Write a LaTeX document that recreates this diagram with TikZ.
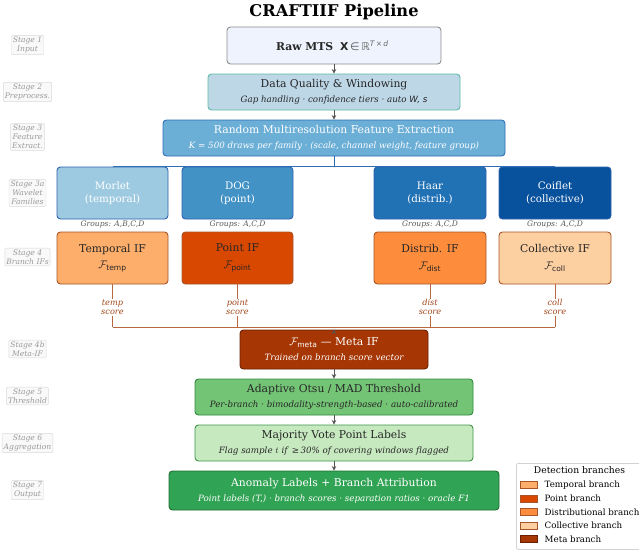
\documentclass[tikz,border=0pt]{standalone}
\usepackage{amsmath}
\usepackage{fontspec}
\setmainfont{DejaVu Serif}
\setsansfont{DejaVu Sans}
\usepackage{xcolor}
\usepackage{tikz}
\usetikzlibrary{positioning, arrows.meta}

\definecolor{rawfill}{HTML}{EEF3FD}
\definecolor{rawdraw}{HTML}{8C8C8C}
\definecolor{dqfill}{HTML}{BDD7E7}
\definecolor{dqdraw}{HTML}{5DB9A6}
\definecolor{rmfefill}{HTML}{6BAED6}
\definecolor{rmfedraw}{HTML}{2F6DB5}
\definecolor{morletfill}{HTML}{9ECAE1}
\definecolor{dogfill}{HTML}{4292C6}
\definecolor{haarfill}{HTML}{2171B5}
\definecolor{coiffill}{HTML}{08519C}
\definecolor{wavedraw}{HTML}{2C62B0}
\definecolor{tempfill}{HTML}{FDAE6B}
\definecolor{pointfill}{HTML}{D94801}
\definecolor{distfill}{HTML}{FD8D3C}
\definecolor{collfill}{HTML}{FDD0A2}
\definecolor{branchdraw}{HTML}{A65628}
\definecolor{metafill}{HTML}{A63603}
\definecolor{metadraw}{HTML}{6B1F02}
\definecolor{otsufill}{HTML}{74C476}
\definecolor{otsudraw}{HTML}{2E8B3E}
\definecolor{votefill}{HTML}{C7E9C0}
\definecolor{votedraw}{HTML}{3B9446}
\definecolor{outfill}{HTML}{31A354}
\definecolor{outdraw}{HTML}{1F6E33}
\definecolor{arrowgray}{HTML}{555555}
\definecolor{wirebrown}{HTML}{B8683F}
\definecolor{scoretext}{HTML}{A0461A}

\newcommand{\boxtitle}[1]{{\fontsize{10.8}{12.5}\selectfont #1}}
\newcommand{\boxsub}[1]{{\fontsize{8.7}{10}\selectfont\itshape #1}}

\begin{document}
\begin{tikzpicture}[
  x=1pt, y=-1pt,
  stagebox/.style={draw=gray!30, fill=gray!5, rounded corners=1pt, inner sep=1.5pt, align=center, text=gray!80, font=\fontsize{7.6}{9}\selectfont\itshape},
  flowbox/.style={draw, rounded corners=3.5pt, line width=0.9pt, align=center, text=black!85, inner sep=2pt},
  wavebox/.style={flowbox, draw=wavedraw, minimum width=111pt, minimum height=52pt, text=white, font=\fontsize{10.3}{13}\selectfont},
  branchbox/.style={flowbox, draw=branchdraw, minimum width=111pt, minimum height=52pt, font=\fontsize{10.8}{12.5}\selectfont},
  grouplabel/.style={font=\fontsize{7.6}{9}\selectfont\itshape, text=black!65, inner sep=1pt},
  scorelabel/.style={font=\fontsize{8.2}{9.4}\selectfont\itshape, text=scoretext, align=center, inner sep=1pt},
  flowarrow/.style={-{Stealth[length=4.5pt, width=4.5pt]}, draw=arrowgray, line width=1pt},
  treewire/.style={draw=rmfedraw, line width=1pt},
  scorewire/.style={draw=wirebrown, line width=1pt},
  swatch/.style={draw=branchdraw, line width=0.8pt, minimum width=17pt, minimum height=7pt, inner sep=0pt},
]
\useasboundingbox (0,0) rectangle (639,551);

% Title
\node[font=\fontsize{16.2}{18}\selectfont\bfseries] (title) at (334,12) {CRAFTIIF Pipeline};

% Stage labels
\node[stagebox] (s1) at (27.5,45) {Stage 1\\Input};
\node[stagebox] (s2) at (27.5,92) {Stage 2\\Preprocess.};
\node[stagebox] (s3) at (27.5,137) {Stage 3\\Feature\\Extract.};
\node[stagebox] (s3a) at (27.5,193) {Stage 3a\\Wavelet\\Families};
\node[stagebox] (s4) at (27.5,257) {Stage 4\\Branch IFs};
\node[stagebox] (s4b) at (27.5,349) {Stage 4b\\Meta-IF};
\node[stagebox] (s5) at (27.5,396) {Stage 5\\Threshold};
\node[stagebox] (s6) at (27.5,443) {Stage 6\\Aggregation};
\node[stagebox] (s7) at (27.5,490) {Stage 7\\Output};

% Input and preprocessing
\node[flowbox, draw=rawdraw, fill=rawfill, minimum width=214pt, minimum height=37pt] (raw) at (334,45.5) {
  \boxtitle{\textbf{Raw MTS}\ \ {\sffamily\bfseries X}{\sffamily\color{black!60}\,∈\,ℝ\textsuperscript{\itshape T\,×\,d}}}
};
\node[flowbox, draw=dqdraw, fill=dqfill, minimum width=252pt, minimum height=36pt] (dq) at (334,92) {
  \boxtitle{Data Quality \& Windowing}\\[3pt]
  \boxsub{Gap handling · confidence tiers · auto {\sffamily W, s}}
};
\node[flowbox, draw=rmfedraw, fill=rmfefill, text=white, minimum width=342pt, minimum height=36pt] (rmfe) at (334,138) {
  \boxtitle{Random Multiresolution Feature Extraction}\\[3pt]
  \boxsub{K = 500 draws per family · (scale, channel weight, feature group)}
};

% Wavelet families
\node[wavebox, fill=morletfill] (morlet) at (112.5,193) {Morlet\\(temporal)};
\node[wavebox, fill=dogfill] (dog) at (237.5,193) {DOG\\(point)};
\node[wavebox, fill=haarfill, minimum width=112pt] (haar) at (430,193) {Haar\\(distrib.)};
\node[wavebox, fill=coiffill, minimum width=112pt] (coif) at (555,193) {Coiflet\\(collective)};

\node[grouplabel, below=0pt of morlet] (gmorlet) {Groups: A,B,C,D};
\node[grouplabel, below=0pt of dog] (gdog) {Groups: A,C,D};
\node[grouplabel, below=0pt of haar] (ghaar) {Groups: A,C,D};
\node[grouplabel, below=0pt of coif] (gcoif) {Groups: A,C,D};

\coordinate (split) at (334,166);
\draw[treewire] (rmfe.south) -- (split);
\draw[treewire] (split -| morlet.north) -- (split -| coif.north);

% Branch isolation forests
\node[branchbox, fill=tempfill] (tempif) at (112.5,258) {Temporal IF\\[4pt]$\mathcal{F}_{\textsf{temp}}$};
\node[branchbox, fill=pointfill] (pointif) at (237.5,258) {Point IF\\[4pt]$\mathcal{F}_{\textsf{point}}$};
\node[branchbox, fill=distfill, minimum width=112pt] (distif) at (430,258) {Distrib. IF\\[4pt]$\mathcal{F}_{\textsf{dist}}$};
\node[branchbox, fill=collfill, minimum width=112pt] (collif) at (555,258) {Collective IF\\[4pt]$\mathcal{F}_{\textsf{coll}}$};

% Branch scores
\node[scorelabel] (tempscore) at (112.5,307) {temp\\score};
\node[scorelabel] (pointscore) at (237.5,307) {point\\score};
\node[scorelabel] (distscore) at (430,307) {dist\\score};
\node[scorelabel] (collscore) at (555,307) {coll\\score};

\coordinate (bus) at (334,327);
\foreach \br/\sc in {tempif/tempscore, pointif/pointscore, distif/distscore, collif/collscore} {
  \draw[scorewire] (\br.south) -- ([yshift=-1pt]\sc.north);
  \draw[scorewire] (\sc.south) -- (bus -| \sc.south);
}
\draw[scorewire] (bus -| tempscore.south) -- (bus -| collscore.south);

% Meta IF and decision stages
\node[flowbox, draw=metadraw, fill=metafill, text=white, minimum width=188pt, minimum height=39pt] (meta) at (334,349.5) {
  \boxtitle{$\mathcal{F}_{\textsf{meta}}$ — Meta IF}\\[3pt]
  \boxsub{Trained on branch score vector}
};
\node[flowbox, draw=otsudraw, fill=otsufill, minimum width=278pt, minimum height=36pt] (otsu) at (334,397) {
  \boxtitle{Adaptive Otsu / MAD Threshold}\\[3pt]
  \boxsub{Per-branch · bimodality-strength-based · auto-calibrated}
};
\node[flowbox, draw=votedraw, fill=votefill, minimum width=278pt, minimum height=36pt] (vote) at (334,443) {
  \boxtitle{Majority Vote Point Labels}\\[3pt]
  \boxsub{Flag sample $t$ if \,≥\,30\% of covering windows flagged}
};
\node[flowbox, draw=outdraw, fill=outfill, text=white, minimum width=330pt, minimum height=39pt] (out) at (334,490.5) {
  \boxtitle{Anomaly Labels + Branch Attribution}\\[3pt]
  \boxsub{Point labels (T,) · branch scores · separation ratios · oracle F1}
};

% Arrows
\draw[flowarrow] (raw) -- (dq);
\draw[flowarrow] (dq) -- (rmfe);
\draw[flowarrow] ([yshift=-5pt]bus) -- (meta);
\draw[flowarrow] (meta) -- (otsu);
\draw[flowarrow] (otsu) -- (vote);
\draw[flowarrow] (vote) -- (out);

% Legend
\node[draw=gray!35, fill=white, rounded corners=2pt, line width=0.8pt, minimum width=125pt, minimum height=86pt, anchor=north west] (legend) at (516,463) {};
\node[font=\fontsize{9.2}{10}\selectfont] (legtitle) at (579.5,470.5) {Detection branches};
\foreach \fc/\dc/\txt [count=\i] in {tempfill/branchdraw/Temporal branch, pointfill/branchdraw/Point branch, distfill/branchdraw/Distributional branch, collfill/branchdraw/Collective branch, metafill/metadraw/Meta branch} {
  \node[swatch, fill=\fc, draw=\dc] (sw\i) at (528.5,{471.5+13.5*\i}) {};
  \node[font=\fontsize{8.7}{10}\selectfont, anchor=west, inner sep=0pt] (lt\i) at (544.5,{471.5+13.5*\i}) {\txt};
}
\end{tikzpicture}
\end{document}
